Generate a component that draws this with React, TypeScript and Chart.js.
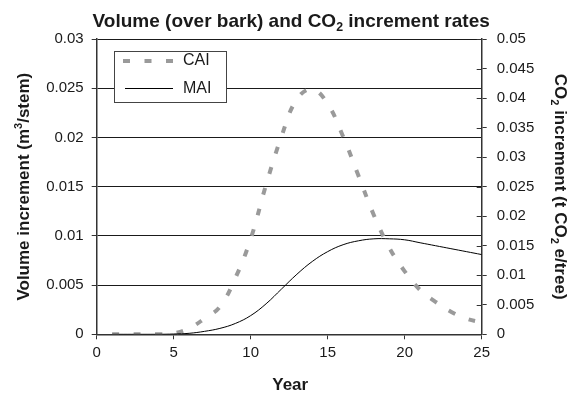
import React, { useEffect, useRef } from 'react';
import { Chart, registerables } from 'chart.js';

Chart.register(...registerables);

// ---- data ----
const years = [1, 2, 3, 4, 5, 6, 7, 8, 9, 10, 11, 12, 13, 14, 15, 16, 17, 18, 19, 20, 21, 22, 23, 24, 25];
const caiValues = [0, 0, 0, 0, 0.0001, 0.0006, 0.0016, 0.0028, 0.0057, 0.0097, 0.0152, 0.0201, 0.0239, 0.0249, 0.0234, 0.0201, 0.0161, 0.0121, 0.0088, 0.0064, 0.0045, 0.0033, 0.0023, 0.0016, 0.0012];
const maiValues = [0, 0, 0, 0, 0.00003, 0.0001, 0.0003, 0.0006, 0.0011, 0.0019, 0.0031, 0.0046, 0.0061, 0.0074, 0.0084, 0.0091, 0.0095, 0.0097, 0.0097, 0.0096, 0.0093, 0.009, 0.0087, 0.0084, 0.0081];
const seriesNames = ['CAI', 'MAI'];
const xTickValues = [0, 5, 10, 15, 20, 25];
const leftTickValues = [0, 0.005, 0.01, 0.015, 0.02, 0.025, 0.03];
const rightTickValues = [0, 0.005, 0.01, 0.015, 0.02, 0.025, 0.03, 0.035, 0.04, 0.045, 0.05];

type Seg = { t: string; s?: 'sub' | 'sup' };
const titleText: Seg[] = [{ t: 'Volume (over bark) and CO' }, { t: '2', s: 'sub' }, { t: ' increment rates' }];
const xTitleText: Seg[] = [{ t: 'Year' }];
const leftTitleText: Seg[] = [{ t: 'Volume increment (m' }, { t: '3', s: 'sup' }, { t: '/stem)' }];
const rightTitleText: Seg[] = [{ t: 'CO' }, { t: '2', s: 'sub' }, { t: ' increment (t CO' }, { t: '2', s: 'sub' }, { t: ' e/tree)' }];

const FAMILY = "'Liberation Sans', Arial, Helvetica, sans-serif";
const TEXT = '#1a1a1a';
const CAI_COLOR = '#9a9a9a';
const CAI_DASH = [7, 14.5];

function fmt(v: number) {
  return String(parseFloat(Number(v).toFixed(4)));
}

function drawRich(ctx: CanvasRenderingContext2D, segs: Seg[], x: number, y: number, size: number, bold: boolean, angle: number) {
  ctx.save();
  ctx.translate(x, y);
  ctx.rotate(angle);
  const font = (sz: number) => `${bold ? 'bold ' : ''}${sz}px ${FAMILY}`;
  const widths = segs.map((sg) => {
    ctx.font = font(sg.s ? size * 0.65 : size);
    return ctx.measureText(sg.t).width;
  });
  const total = widths.reduce((a, b) => a + b, 0);
  let cx = -total / 2;
  ctx.textAlign = 'left';
  ctx.textBaseline = 'alphabetic';
  ctx.fillStyle = TEXT;
  segs.forEach((sg, i) => {
    ctx.font = font(sg.s ? size * 0.65 : size);
    const dy = sg.s === 'sub' ? size * 0.22 : sg.s === 'sup' ? -size * 0.4 : 0;
    ctx.fillText(sg.t, cx, dy);
    cx += widths[i];
  });
  ctx.restore();
}

const decorPlugin = {
  id: 'decor',
  afterDraw(chart: any) {
    const ctx: CanvasRenderingContext2D = chart.ctx;
    const area = chart.chartArea;
    const cxMid = (area.left + area.right) / 2;
    drawRich(ctx, titleText, cxMid + 2, 26.5, 19, true, 0);
    drawRich(ctx, xTitleText, cxMid + 1, 390, 17, true, 0);
    drawRich(ctx, leftTitleText, 28.5, (area.top + area.bottom) / 2, 17, true, -Math.PI / 2);
    drawRich(ctx, rightTitleText, 554.5, (area.top + area.bottom) / 2, 17, true, Math.PI / 2);

    // inward part of right-axis ticks
    const y2 = chart.scales.y2;
    ctx.save();
    ctx.strokeStyle = '#333';
    ctx.lineWidth = 1;
    y2.ticks.forEach((tk: any) => {
      const py = Math.round(y2.getPixelForValue(tk.value)) + 0.5;
      ctx.beginPath();
      ctx.moveTo(area.right - 5, py);
      ctx.lineTo(area.right, py);
      ctx.stroke();
    });
    ctx.restore();
  },
  afterDatasetsDraw(chart: any) {
    // legend box
    const ctx: CanvasRenderingContext2D = chart.ctx;
    ctx.save();
    const bx = 114.5, by = 51.5, bw = 112, bh = 51;
    ctx.fillStyle = '#ffffff';
    ctx.fillRect(bx, by, bw, bh);
    ctx.strokeStyle = '#444';
    ctx.lineWidth = 1;
    ctx.strokeRect(bx, by, bw, bh);
    // CAI sample
    ctx.strokeStyle = CAI_COLOR;
    ctx.lineWidth = 4;
    ctx.setLineDash(CAI_DASH);
    ctx.beginPath();
    ctx.moveTo(123, 61);
    ctx.lineTo(174, 61);
    ctx.stroke();
    ctx.setLineDash([]);
    // MAI sample
    ctx.strokeStyle = '#000';
    ctx.lineWidth = 1;
    ctx.beginPath();
    ctx.moveTo(125, 88.5);
    ctx.lineTo(173, 88.5);
    ctx.stroke();
    ctx.fillStyle = TEXT;
    ctx.font = `16px ${FAMILY}`;
    ctx.textAlign = 'left';
    ctx.textBaseline = 'middle';
    ctx.fillText(seriesNames[0], 183, 61);
    ctx.fillText(seriesNames[1], 183, 88.5);
    ctx.restore();
  },
};

export default function App() {
  const ref = useRef<HTMLCanvasElement | null>(null);
  useEffect(() => {
    document.body.style.margin = '0';
    const canvas = ref.current!;
    const chart = new Chart(canvas, {
      type: 'line',
      data: {
        datasets: [
          {
            label: seriesNames[0],
            data: years.map((x, i) => ({ x, y: caiValues[i] })),
            borderColor: CAI_COLOR,
            borderWidth: 4,
            borderDash: CAI_DASH,
            pointRadius: 0,
            tension: 0.4,
            fill: false,
            yAxisID: 'y',
            order: 1,
          },
          {
            label: seriesNames[1],
            data: years.map((x, i) => ({ x, y: maiValues[i] })),
            borderColor: '#000',
            borderWidth: 1,
            pointRadius: 0,
            tension: 0.4,
            fill: false,
            yAxisID: 'y',
            order: 0,
          },
        ],
      },
      options: {
        responsive: false,
        animation: false,
        devicePixelRatio: 1,
        layout: { padding: { top: 39, left: 0, right: 0, bottom: 0 } },
        plugins: { legend: { display: false }, title: { display: false }, tooltip: { enabled: false } },
        scales: {
          x: {
            type: 'linear',
            min: 0,
            max: 25,
            afterBuildTicks: (s: any) => { s.ticks = xTickValues.map((v) => ({ value: v })); },
            afterFit: (s: any) => { s.height = 60.7; },
            ticks: { color: TEXT, font: { size: 15, family: FAMILY }, padding: 5, maxRotation: 0, callback: (v: any) => fmt(v) },
            grid: { drawOnChartArea: false, drawTicks: true, tickLength: 5, tickColor: '#333', lineWidth: 1 },
            border: { display: true, color: '#333', width: 1.5 },
          },
          y: {
            type: 'linear',
            position: 'left',
            min: 0,
            max: 0.03,
            afterBuildTicks: (s: any) => { s.ticks = leftTickValues.map((v) => ({ value: v })); },
            afterFit: (s: any) => { s.width = 96.7; },
            ticks: { color: TEXT, font: { size: 15, family: FAMILY }, padding: 8, callback: (v: any) => fmt(v) },
            grid: { drawOnChartArea: true, color: '#1a1a1a', lineWidth: 1, drawTicks: true, tickLength: 5, tickColor: '#333' },
            border: { display: true, color: '#333', width: 1.5 },
          },
          y2: {
            type: 'linear',
            position: 'right',
            min: 0,
            max: 0.05,
            afterBuildTicks: (s: any) => { s.ticks = rightTickValues.map((v) => ({ value: v })); },
            afterFit: (s: any) => { s.width = 577 - 481.7; },
            ticks: { color: TEXT, font: { size: 15, family: FAMILY }, padding: 10, callback: (v: any) => fmt(v) },
            grid: { drawOnChartArea: false, drawTicks: true, tickLength: 5, tickColor: '#333' },
            border: { display: true, color: '#333', width: 1.5 },
          },
        },
      } as any,
      plugins: [decorPlugin],
    });
    return () => chart.destroy();
  }, []);
  return (
    <div style={{ width: 577, height: 395 }}>
      <canvas ref={ref} width={577} height={395} style={{ display: 'block' }} />
    </div>
  );
}
